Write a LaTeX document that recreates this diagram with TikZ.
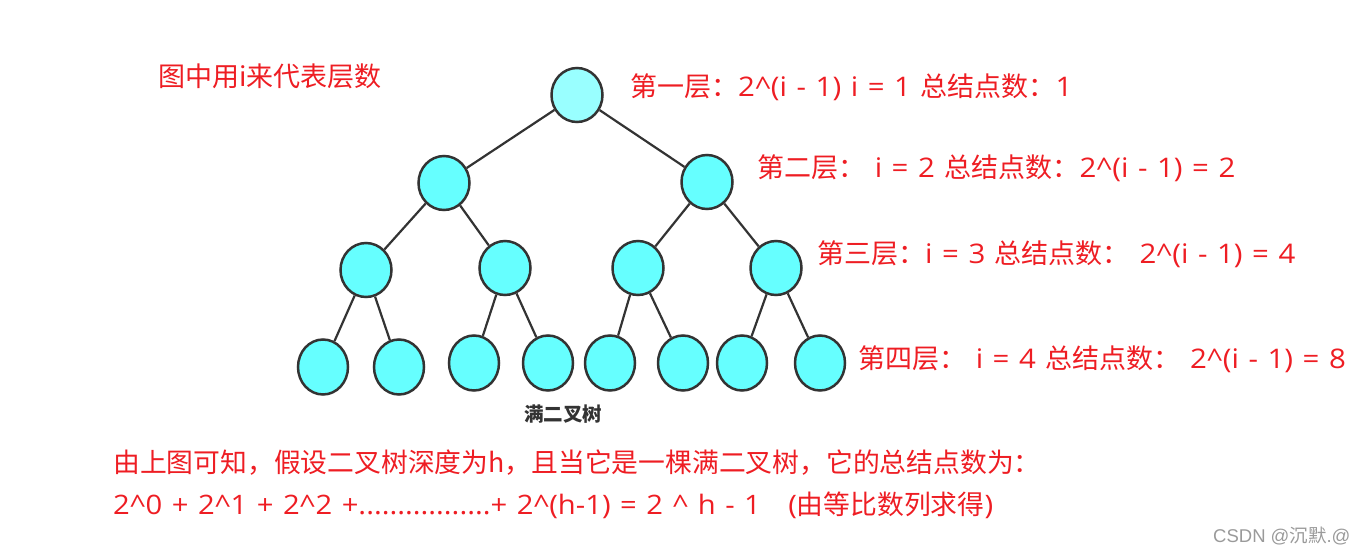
\documentclass[tikz,border=0pt]{standalone}
\usepackage{fontspec}
\setmainfont{Open Sans}[FakeStretch=1.09, WordSpace=1.25]
\newfontfamily\cjk{Noto Sans CJK SC}
\newfontfamily\marksans{Liberation Sans}
\usetikzlibrary{shapes.geometric}
\definecolor{cyanroot}{HTML}{99FFFF}
\definecolor{cyannode}{HTML}{66FFFF}
\definecolor{ink}{HTML}{333333}
\definecolor{redtxt}{HTML}{EE1D23}
\definecolor{markgray}{HTML}{9A9A9A}
\newcommand\zh[1]{{\cjk #1}}
\tikzset{
  knot/.style={ellipse, draw=ink, line width=2.5pt, fill=cyannode,
               minimum width=51pt, minimum height=54pt, inner sep=0pt},
  leaf/.style={knot, minimum width=50pt, minimum height=55pt},
  edge/.style={draw=ink, line width=2.2pt},
  note/.style={anchor=west, text=redtxt, inner sep=0pt,
               font=\fontsize{27}{32}\selectfont},
  sum/.style={note, font=\fontsize{26.8}{32}\selectfont},
}

\begin{document}
\begin{tikzpicture}[x=1pt, y=-1pt]
  \useasboundingbox (0,0) rectangle (1366,554);
  % the tree
  \node[knot, fill=cyanroot] (root) at (577,95) {};
  \node[knot] (l) at (444,183) {};
  \node[knot] (r) at (707,182) {};
  \node[knot] (ll) at (366,270) {};
  \node[knot] (lr) at (505,268) {};
  \node[knot] (rl) at (638,268) {};
  \node[knot] (rr) at (776,268) {};
  \node[leaf] (lll) at (323,367) {};
  \node[leaf] (llr) at (399,367) {};
  \node[leaf] (lrl) at (474,363) {};
  \node[leaf] (lrr) at (548,363) {};
  \node[leaf] (rll) at (610,363) {};
  \node[leaf] (rlr) at (683,363) {};
  \node[leaf] (rrl) at (742,363) {};
  \node[leaf] (rrr) at (820,363) {};
  \draw[edge] (root)--(l);
  \draw[edge] (root)--(r);
  \draw[edge] (l)--(ll);
  \draw[edge] (l)--(lr);
  \draw[edge] (r)--(rl);
  \draw[edge] (r)--(rr);
  \draw[edge] (ll)--(lll);
  \draw[edge] (ll)--(llr);
  \draw[edge] (lr)--(lrl);
  \draw[edge] (lr)--(lrr);
  \draw[edge] (rl)--(rll);
  \draw[edge] (rl)--(rlr);
  \draw[edge] (rr)--(rrl);
  \draw[edge] (rr)--(rrr);
  \node[font=\fontsize{19.5}{22}\selectfont\cjk\bfseries, text=ink] (cap) at (563,414) {满二叉树};
  % level notes
  \node[note] (hint) at (158,76) {\zh{图中用i来代表层数}};
  \node[note] (lv1) at (630,87) {\zh{第一层：}2\^{}(i - 1) i = 1 \zh{总结点数：}1};
  \node[note] (lv2) at (757,168) {\zh{第二层：} i = 2 \zh{总结点数：}2\^{}(i - 1) = 2};
  \node[note] (lv3) at (817,254) {\zh{第三层：}i = 3 \zh{总结点数：} 2\^{}(i - 1) = 4};
  \node[note] (lv4) at (858,359) {\zh{第四层：} i = 4 \zh{总结点数：} 2\^{}(i - 1) = 8};
  % sum
  \node[sum] (sum1) at (113,463) {\zh{由上图可知，假设二叉树深度为h，且当它是一棵满二叉树，它的总结点数为：}};
  \node[sum] (sum2) at (113,505) {2\^{}0 + 2\^{}1 + 2\^{}2 +.................+ 2\^{}(h-1) = 2 \^{} h - 1 \hspace{18pt}(\zh{由等比数列求得})};
  \node[anchor=west, inner sep=0pt, text=markgray, font=\fontsize{18.5}{20}\selectfont\marksans] (mark) at (1213,536) {CSDN @\zh{沉默}.@};
\end{tikzpicture}
\end{document}
